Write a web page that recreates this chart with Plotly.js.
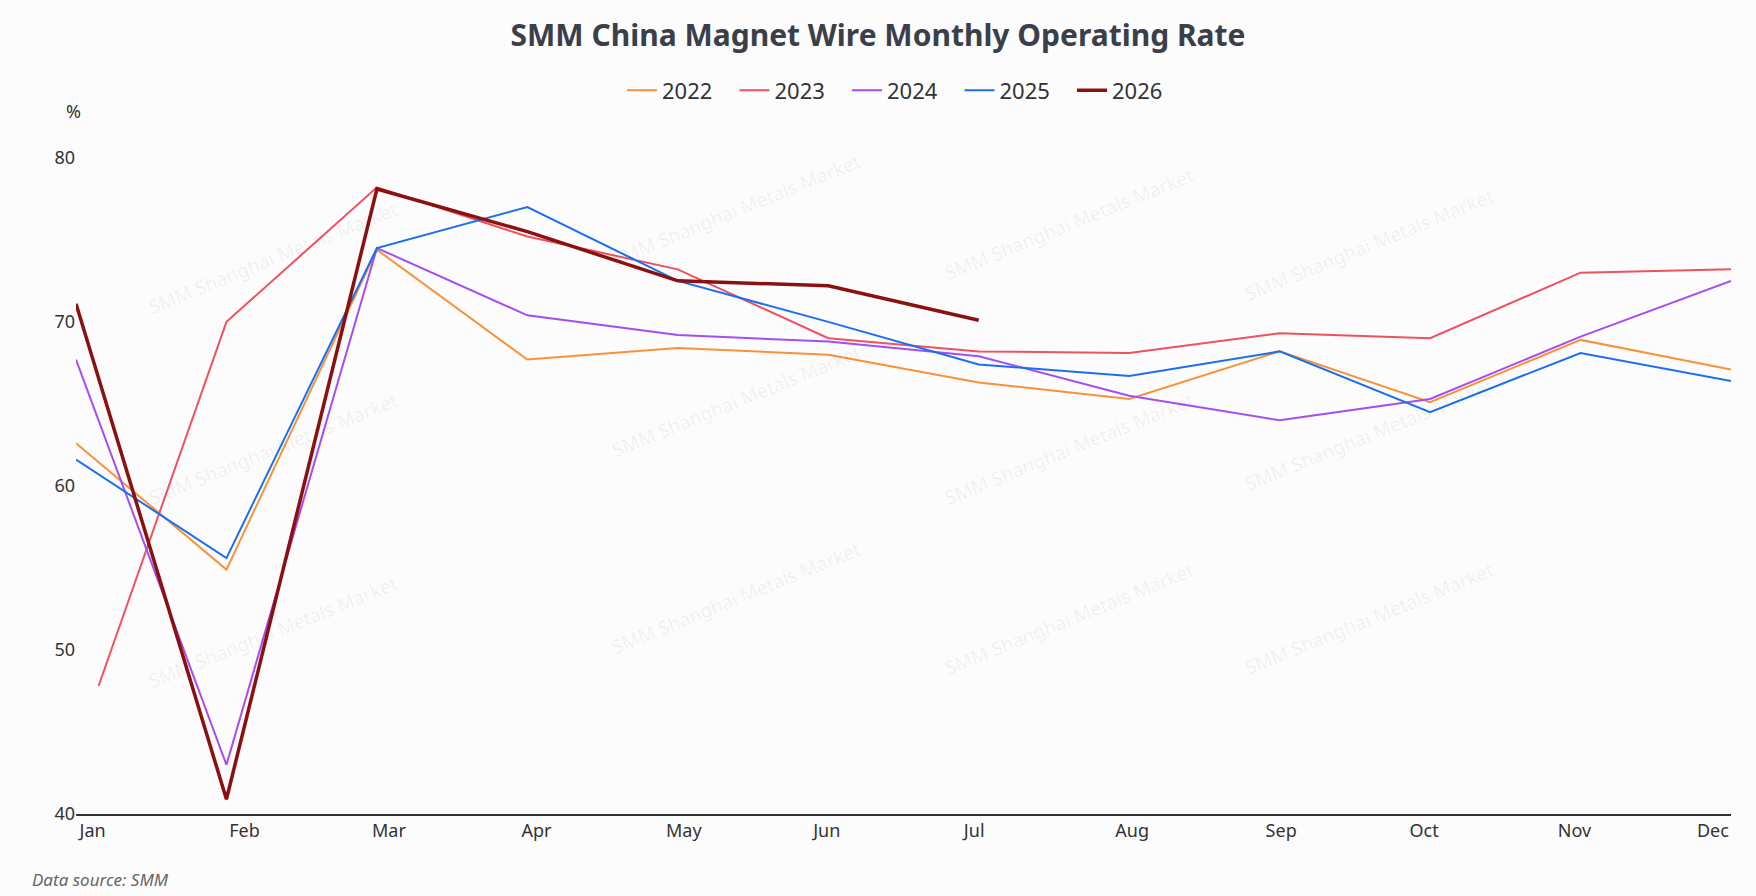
<!DOCTYPE html>
<html><head><script src="https://cdn.plot.ly/plotly-3.0.1.min.js"></script>
<style>body{margin:0;background:#fcfcfc}</style></head><body>
<div id="c" style="width:1756px;height:896px"></div>
<script>
const months=["Jan","Feb","Mar","Apr","May","Jun","Jul","Aug","Sep","Oct","Nov","Dec"];
const tickPos=[0.11,1.12,2.08,3.06,4.04,4.99,5.97,7.02,8.01,8.96,9.96,10.88];
const y2022=[62.6,54.9,74.4,67.7,68.4,68.0,66.3,65.3,68.2,65.1,68.9,67.1];
const y2023=[47.8,70.0,78.2,75.2,73.2,69.0,68.2,68.1,69.3,69.0,73.0,73.2];
const y2024=[67.7,43.0,74.5,70.4,69.2,68.8,67.9,65.5,64.0,65.3,69.1,72.5];
const y2025=[61.6,55.6,74.5,77.0,72.5,70.0,67.4,66.7,68.2,64.5,68.1,66.4];
const y2026=[71.1,40.9,78.1,75.5,72.5,72.2,70.1];
const x2023=[0.15,1,2,3,4,5,6,7,8,9,10,11];
const idx=months.map((m,i)=>i);
const mk=(name,x,y,color,w)=>({type:'scatter',mode:'lines',name:name+'   ',x,y:y,line:{color,width:w}});
const data=[mk('2022',idx,y2022,'#f7923a',2),mk('2023',x2023,y2023,'#f0505f',2),mk('2024',idx,y2024,'#a64df2',2),mk('2025',idx,y2025,'#1a6ff0',2),mk('2026',idx.slice(0,7),y2026,'#8b1010',3.5)];
const ann=[{text:'%',xref:'paper',yref:'paper',x:-0.007,y:1.0,xanchor:'left',yanchor:'bottom',showarrow:false,font:{size:18,color:'#333'}},
{text:'<i>Data source: SMM</i>',xref:'paper',yref:'paper',x:-0.028,y:-0.075,xanchor:'left',yanchor:'top',showarrow:false,font:{size:17,color:'#666'}}];
const wm=[[0.04,0.9],[0.32,0.97],[0.6,0.95],[0.86,0.92],[0.04,0.53],[0.32,0.6],[0.6,0.53],[0.86,0.55],[0.04,0.17],[0.32,0.22],[0.6,0.19],[0.86,0.19]];
wm.forEach(p=>ann.push({text:'SMM Shanghai Metals Market',xref:'paper',yref:'paper',x:p[0],y:p[1],showarrow:false,textangle:-22,font:{size:19,color:'rgba(0,0,0,0.06)'}}));
Plotly.newPlot('c',data,{
paper_bgcolor:'#fcfcfc',plot_bgcolor:'#fcfcfc',
margin:{l:76,r:25,t:125,b:82},
font:{family:'Noto Sans, sans-serif',color:'#333'},
title:{text:'<b>SMM China Magnet Wire Monthly Operating Rate</b>',x:0.5,y:0.96,yanchor:'middle',font:{size:30,color:'#3a3f4a'}},
legend:{orientation:'h',x:0.5,xanchor:'center',y:1.05,yanchor:'middle',font:{size:22,color:'#333'}},
xaxis:{range:[0,11],tickmode:'array',tickvals:tickPos,ticktext:months,showgrid:false,zeroline:false,showline:true,linecolor:'#333',linewidth:1.5,ticks:'',tickfont:{size:18}},
yaxis:{range:[40,82],tickvals:[40,50,60,70,80],showgrid:false,zeroline:false,ticks:'',tickfont:{size:18}},
annotations:ann},{displayModeBar:false});
</script></body></html>
